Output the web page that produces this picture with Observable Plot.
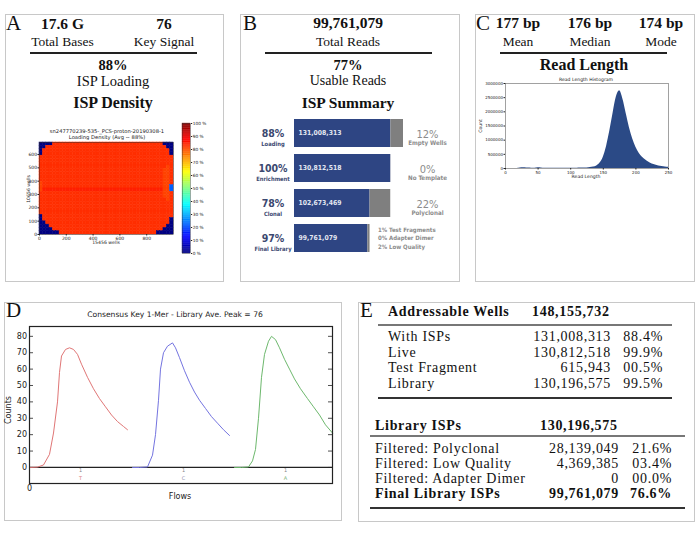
<!DOCTYPE html>
<html><head><meta charset="utf-8">
<script src="https://cdn.jsdelivr.net/npm/d3@7"></script>
<script src="https://cdn.jsdelivr.net/npm/@observablehq/plot@0.6"></script>
<style>
body{margin:0;background:#fff}
#root{position:relative;width:698px;height:536px;overflow:hidden;background:#fff}
.abs{position:absolute;white-space:nowrap;line-height:1}
.box{position:absolute;border:1.5px solid #c8c8c8;box-sizing:border-box}
svg{position:absolute;overflow:visible}
</style></head><body><div id="root"></div>
<script>
// ---------------- DATA ----------------
// Panel A
const statsA = [["17.6 G", "Total Bases"], ["76", "Key Signal"]];
const loadingA = ["88%", "ISP Loading"];
const chipTitle = ["sn247770239-535-_PCS-proton-20190308-1", "Loading Density (Avg ~ 88%)"];
const chipCols = 1000, chipRows = 690;           // axis extents (wells / 15.456)
const chipXTicks = [0, 200, 400, 600, 800];
const chipYTicks = [0, 100, 200, 300, 400, 500, 600];
const chipXLabel = "15456 wells", chipYLabel = "10656 wells";
const colorbarTicks = [0, 10, 20, 30, 40, 50, 60, 70, 80, 90, 100];
const densityLevel = {"0": 0, "3": 22, "8": 81, "9": 83, "a": 84.5};
const loadingRows = [
 "0000999999 9999999999 9999999999 9999999000",
 "0099999999 9999999999 9999999999 9999999900",
 "0999999999 9999999999 9999999999 9999999990",
 "0999999999 9999999999 9999999999 9999999990",
 "9999999999 9999999999 9999999999 9999999999",
 "9999999999 9999999999 9999999999 9999999999",
 "9999999999 9999999999 9999999999 9999999999",
 "9999999999 9999999999 9999999999 9999999989",
 "9999999999 9999999999 9999999999 9999999889",
 "9999999999 9999999999 9999999999 9999999889",
 "9999999999 9999999999 9999999999 9999999889",
 "9999999999 9999999999 9999999999 9999999889",
 "8999999999 9999999999 9999999999 9999999889",
 "8999999999 9999999999 9999999999 9999999883",
 "8aaaaaaaaa aaaaaaaaaa aaaaaaaaaa aaaaaaa883",
 "9999999999 9999999999 9999999999 9999999889",
 "9999999999 9999999999 9999999999 9999999889",
 "9999999999 9999999999 9999999999 9999999989",
 "9999999999 9999999999 9999999999 9999999999",
 "9999999999 9999999999 9999999999 9999999999",
 "9999999999 9999999999 9999999999 9999999999",
 "9999999999 9999999999 9999999999 9999999999",
 "0999999999 9999999999 9999999999 9999999999",
 "0999999999 9999999999 9999999999 9999999990",
 "0099999999 9999999999 9999999999 9999999990",
 "0009999999 9999999999 9999999999 9999999900",
 "0000999999 9999999999 9999999999 9999999000",
 "0000009999 9999999999 9999999999 9999900000"
];
// Panel B
const totalReadsB = ["99,761,079", "Total Reads"];
const usableB = ["77%", "Usable Reads"];
const addressableWells = 148155732;
const ispStages = ["Loading", "Enrichment", "Clonal", "Final Library"];
const ispPct = ["88%", "100%", "78%", "97%"];
const ispCounts = [131008313, 130812518, 102673469, 99761079];
const ispRemainder = [17147419, 195795, 28139049, 2912390];
const ispRightPct = ["12%", "0%", "22%", ""];
const ispRightLabel = ["Empty Wells", "No Template", "Polyclonal", ""];
const finalLibNotes = ["1% Test Fragments", "0% Adapter Dimer", "2% Low Quality"];
// Panel C
const lengthStats = [["177 bp", "Mean"], ["176 bp", "Median"], ["174 bp", "Mode"]];
const readLengthBins = [0,5,10,15,20,25,30,35,40,45,50,55,60,65,70,75,80,85,90,95,100,105,110,115,120,125,130,135,140,145,150,155,160,165,170,175,180,185,190,195,200,205,210,215,220,225,230,235,240,245,250];
const readCounts = [0,0,2000,4000,12000,30000,28000,15000,10000,12000,25000,20000,10000,8000,7000,7000,7000,8000,8000,9000,10000,11000,12000,14000,17000,22000,32000,50000,90000,190000,400000,780000,1320000,1950000,2520000,2740000,2450000,1950000,1450000,1050000,750000,540000,400000,300000,220000,160000,120000,90000,70000,50000,40000];
const histXTicks = [0, 50, 100, 150, 200, 250];
const histYTicks = [0, 500000, 1000000, 1500000, 2000000, 2500000, 3000000];
// Panel D
const keyTitle = "Consensus Key 1-Mer - Library Ave. Peak = 76";
const countTicks = [0, 10, 20, 30, 40, 50, 60, 70, 80];
const keyT = [[0,0],[8,0.2],[14,1.5],[20,8],[24,21],[28,40],[30,58],[32,68],[36,72],[40,73],[44,72],[48,69],[52,63],[58,55],[64,48],[70,42],[76,37],[82,32],[88,28],[94,25],[98,23]];
const keyC = [[103,0],[110,0],[118,0.3],[123,7.5],[126,20],[129,41],[131,60],[134,70],[138,74],[143,76],[146,73],[150,67],[155,59],[160,52],[165,46],[170,41],[176,36],[182,31],[188,27],[194,23],[200,19.5]];
const keyA = [[205,0],[212,0],[219,0.3],[223,4],[226,11],[229,30],[232,55],[235,69],[239,77],[242,80],[246,78],[250,73],[255,66],[260,60],[265,54],[271,48],[278,42],[284,37],[290,32],[296,26],[303,21]];
const flowNucs = ["T", "C", "A"];
const flowTickX = [51, 154, 256];
// Panel E
const wellsHeader = ["Addressable Wells", "148,155,732"];
const wellsRows = [["With ISPs", "131,008,313", "88.4%"], ["Live", "130,812,518", "99.9%"], ["Test Fragment", "615,943", "00.5%"], ["Library", "130,196,575", "99.5%"]];
const libHeader = ["Library ISPs", "130,196,575"];
const libRows = [["Filtered: Polyclonal", "28,139,049", "21.6%"], ["Filtered: Low Quality", "4,369,385", "03.4%"], ["Filtered: Adapter Dimer", "0", "00.0%"]];
const libFinal = ["Final Library ISPs", "99,761,079", "76.6%"];

// ---------------- HELPERS ----------------
const root = document.getElementById("root");
const SERIF = '"Liberation Serif","Times New Roman",serif';
const SANS = '"DejaVu Sans",sans-serif';
const COND = '"DejaVu Sans Condensed","DejaVu Sans",sans-serif';
function txt(x, base, s, o = {}) {
  const d = document.createElement("div");
  d.className = "abs";
  const size = o.size || 13;
  d.style.fontFamily = o.family || SERIF;
  d.style.fontSize = size + "px";
  d.style.fontWeight = o.bold ? "bold" : "normal";
  d.style.color = o.color || "#111";
  if (o.ls) d.style.letterSpacing = o.ls + "px";
  d.style.left = x + "px";
  if (o.rot) {
    d.style.top = base + "px";
    d.style.transform = "translate(-50%,-50%) rotate(-90deg)";
  } else {
    d.style.top = (base - 0.84 * size) + "px";
    const a = o.anchor || "start";
    if (a === "middle") d.style.transform = "translateX(-50%)";
    else if (a === "end") d.style.transform = "translateX(-100%)";
  }
  d.textContent = s;
  root.appendChild(d);
}
function hline(x1, x2, y, w, color) {
  const d = document.createElement("div");
  d.style.cssText = `position:absolute;left:${x1}px;top:${y - w / 2}px;width:${x2 - x1}px;height:${w}px;background:${color}`;
  root.appendChild(d);
}
function box(x1, y1, x2, y2) {
  const d = document.createElement("div");
  d.className = "box";
  d.style.cssText += `left:${x1}px;top:${y1}px;width:${x2 - x1}px;height:${y2 - y1}px`;
  root.appendChild(d);
}
function place(svg, x, y) {
  svg.style.left = x + "px"; svg.style.top = y + "px";
  root.appendChild(svg);
}
const jet = t => {
  const c = v => Math.max(0, Math.min(1, v));
  const r = c(1.5 - Math.abs(4 * t - 3)), g = c(1.5 - Math.abs(4 * t - 2)), b = c(1.5 - Math.abs(4 * t - 1));
  return `rgb(${Math.round(r * 255)},${Math.round(g * 255)},${Math.round(b * 255)})`;
};
const NAVY = "#2e4583";

// ---------------- BOXES & LABELS ----------------
box(5, 14, 224, 282); box(240, 14, 460, 282); box(475, 14, 695, 282);
box(4, 302, 342, 521); box(358, 302, 695, 522);
txt(6, 31, "A", {size: 21}); txt(243, 31, "B", {size: 21}); txt(476, 31, "C", {size: 21});
txt(6, 318, "D", {size: 21}); txt(360, 318, "E", {size: 21});

// ---------------- PANEL A ----------------
[62.5, 164].forEach((cx, i) => {
  txt(cx, 29, statsA[i][0], {size: 15.5, bold: true, anchor: "middle"});
  txt(cx, 46.5, statsA[i][1], {size: 13.5, anchor: "middle"});
});
hline(30, 197, 53, 1.2, "#222");
txt(113, 70.5, loadingA[0], {size: 14.5, bold: true, anchor: "middle"});
txt(113, 86, loadingA[1], {size: 14.5, anchor: "middle"});
txt(113, 108, "ISP Density", {size: 16, bold: true, anchor: "middle"});
txt(107, 133, chipTitle[0], {size: 5.2, family: SANS, anchor: "middle", color: "#222"});
txt(107, 139, chipTitle[1], {size: 5.2, family: SANS, anchor: "middle", color: "#222"});
txt(106, 245, chipXLabel, {size: 4.6, family: SANS, anchor: "middle", color: "#222"});
txt(29, 189, chipYLabel, {size: 4.6, family: SANS, rot: true, color: "#222"});

const heatCells = [];
loadingRows.forEach((row, r) => Array.from(row.replace(/ /g, "")).forEach((ch, c) => heatCells.push({c, r, v: densityLevel[ch]})));
const nC = loadingRows[0].replace(/ /g, "").length, nR = loadingRows.length;
const heat = Plot.plot({
  width: 175, height: 130, marginLeft: 29, marginRight: 12, marginTop: 22, marginBottom: 16,
  style: {fontFamily: SANS, fontSize: "4.5px", background: "transparent", color: "#222"},
  x: {domain: [0, chipCols], label: null},
  y: {domain: [0, chipRows], label: null},
  color: {type: "linear", domain: [0, 100], interpolate: jet},
  marks: [
    Plot.rect(heatCells, {x1: d => d.c * chipCols / nC, x2: d => (d.c + 1) * chipCols / nC,
      y1: d => chipRows - (d.r + 1) * chipRows / nR, y2: d => chipRows - d.r * chipRows / nR,
      fill: "v", stroke: "v", strokeWidth: 0.5}),
    Plot.frame({stroke: "#333", strokeWidth: 0.5}),
    Plot.axisX({ticks: chipXTicks, tickSize: 1.5, tickPadding: 1, label: null}),
    Plot.axisY({ticks: chipYTicks, tickSize: 1.5, tickPadding: 1, label: null})
  ]
});
place(heat, 10, 120);

const cbar = Plot.plot({
  width: 30, height: 140, marginLeft: 2, marginRight: 20, marginTop: 5, marginBottom: 5,
  style: {fontFamily: SANS, fontSize: "4.3px", background: "transparent", color: "#222"},
  x: {domain: [0, 1], axis: null},
  y: {domain: [0, 100], label: null},
  color: {type: "linear", domain: [0, 100], interpolate: jet},
  marks: [
    Plot.rect(d3.range(0, 100, 0.5), {x1: 0, x2: 1, y1: d => d, y2: d => d + 0.5, fill: d => d, stroke: d => d, strokeWidth: 0.3}),
    Plot.frame({stroke: "#333", strokeWidth: 0.4}),
    Plot.axisY({anchor: "right", ticks: colorbarTicks, tickFormat: d => d + " %", tickSize: 1.2, tickPadding: 1, label: null})
  ]
});
place(cbar, 180, 118);

// ---------------- PANEL B ----------------
txt(348, 28.5, totalReadsB[0], {size: 15.5, bold: true, anchor: "middle"});
txt(348, 46.5, totalReadsB[1], {size: 13.5, anchor: "middle"});
hline(265, 432, 53, 1.2, "#222");
txt(348, 70.5, usableB[0], {size: 14.5, bold: true, anchor: "middle"});
txt(348, 86, usableB[1], {size: 14, anchor: "middle"});
txt(348, 108, "ISP Summary", {size: 15.5, bold: true, anchor: "middle"});

const ispData = ispStages.map((stage, i) => ({stage, count: ispCounts[i], rest: ispRemainder[i], pct: ispPct[i], rp: ispRightPct[i], rl: ispRightLabel[i]}));
const SLATE = "#3b4870", GRAYT = "#8c8c8c";
const B = Plot.plot({
  width: 220, height: 150, marginLeft: 54, marginRight: 57, marginTop: 3.5, marginBottom: 6.5,
  style: {fontFamily: COND, background: "transparent"},
  x: {domain: [0, addressableWells], axis: null},
  y: {domain: ispStages, axis: null, paddingInner: 0.2, paddingOuter: 0.1, round: false},
  marks: [
    Plot.barX(ispData, {y: "stage", x1: 0, x2: "count", fill: NAVY}),
    Plot.barX(ispData, {y: "stage", x1: "count", x2: d => d.count + d.rest, fill: "#7f7f7f"}),
    Plot.text(ispData, {y: "stage", x: 0, dx: 4, dy: -0.5, text: d => d3.format(",")(d.count), textAnchor: "start", fill: "#e3e7f1", fontWeight: "bold", fontSize: 6.8}),
    Plot.text(ispData, {y: "stage", x: 0, dx: -21.5, dy: 0.5, text: "pct", fill: SLATE, fontSize: 10.5, fontWeight: "bold"}),
    Plot.text(ispData, {y: "stage", x: 0, dx: -21.5, dy: 10.5, text: "stage", fill: SLATE, fontSize: 5.8, fontWeight: "bold"}),
    Plot.text(ispData, {y: "stage", x: addressableWells, dx: 24, dy: 0.5, text: "rp", fill: GRAYT, fontSize: 11}),
    Plot.text(ispData, {y: "stage", x: addressableWells, dx: 24, dy: 10, text: "rl", fill: GRAYT, fontSize: 6.2, fontWeight: "bold"}),
    Plot.text([finalLibNotes.join("\n")], {y: () => "Final Library", x: addressableWells, dx: -25.5, dy: -1, text: d => d, textAnchor: "start", fill: GRAYT, fontSize: 6, fontWeight: "bold", lineHeight: 1.45})
  ]
});
place(B, 240, 112);

// ---------------- PANEL C ----------------
[518, 590, 661].forEach((cx, i) => {
  txt(cx, 28.5, lengthStats[i][0], {size: 15.5, bold: true, anchor: "middle"});
  txt(cx, 46.5, lengthStats[i][1], {size: 13.5, anchor: "middle"});
});
hline(500, 667, 53, 1.2, "#222");
txt(584, 70.5, "Read Length", {size: 16, bold: true, anchor: "middle"});
txt(586, 82, "Read Length Histogram", {size: 4.6, family: SANS, anchor: "middle", color: "#222"});
txt(586, 178.5, "Read Length", {size: 4.6, family: SANS, anchor: "middle", color: "#222"});
txt(481, 126, "Count", {size: 4.6, family: SANS, rot: true, color: "#222"});
const hist = readLengthBins.map((x, i) => ({x, y: readCounts[i]}));
const C = Plot.plot({
  width: 216, height: 108, marginLeft: 29, marginRight: 24, marginTop: 9, marginBottom: 14,
  style: {fontFamily: SANS, fontSize: "4px", background: "transparent", color: "#222"},
  x: {domain: [0, 250], label: null},
  y: {domain: [0, 3000000], label: null},
  marks: [
    Plot.areaY(hist, {x: "x", y: "y", fill: "#2b4a86", curve: "monotone-x"}),
    Plot.frame({stroke: "#444", strokeWidth: 0.5}),
    Plot.axisX({ticks: histXTicks, tickSize: 1.5, tickPadding: 1, label: null}),
    Plot.axisY({ticks: histYTicks, tickFormat: d => String(d), tickSize: 1.5, tickPadding: 1, label: null})
  ]
});
place(C, 476, 74);

// ---------------- PANEL D ----------------
txt(175, 317, keyTitle, {size: 7.6, family: SANS, anchor: "middle", color: "#222"});
txt(180, 500, "Flows", {size: 8, family: SANS, anchor: "middle", color: "#222"});
txt(9, 410, "Counts", {size: 8, family: SANS, rot: true, color: "#222"});
const flowColors = ["#d98080", "#9090b0", "#77b077"];
const D = Plot.plot({
  width: 337, height: 219, marginLeft: 25, marginRight: 9, marginTop: 24, marginBottom: 38,
  style: {fontFamily: SANS, fontSize: "8px", background: "transparent", color: "#222"},
  x: {domain: [0, 303], label: null},
  y: {domain: [-9.8, 86], label: null},
  color: {type: "identity"},
  marks: [
    Plot.ruleY(countTicks, {x1: 0, x2: 4, stroke: "#222", strokeWidth: 0.8}),
    Plot.ruleY(countTicks, {x1: 299, x2: 303, stroke: "#222", strokeWidth: 0.8}),
    Plot.ruleY([0], {stroke: "#222", strokeWidth: 1.2}),
    Plot.line(keyT, {stroke: "#e07676", strokeWidth: 1}),
    Plot.line(keyC, {stroke: "#7474e0", strokeWidth: 1}),
    Plot.line(keyA, {stroke: "#6db86d", strokeWidth: 1}),
    Plot.text(flowTickX, {x: d => d, frameAnchor: "bottom", dy: -11.5, text: () => "1", fill: "#888", fontSize: 5}),
    Plot.text(flowNucs, {x: (d, i) => flowTickX[i], frameAnchor: "bottom", dy: -4, text: d => d, fill: (d, i) => flowColors[i], fontSize: 5}),
    Plot.frame({stroke: "#222", strokeWidth: 1.2}),
    Plot.axisY({ticks: countTicks, tickSize: 0, tickPadding: 2.5, label: null}),
    Plot.axisX({ticks: [0], tickSize: 0, tickPadding: 2, label: null})
  ]
});
place(D, 4, 302);

// ---------------- PANEL E ----------------
const ES = 14, LS = 0.7;
txt(388, 317, wellsHeader[0], {size: ES, bold: true, ls: LS});
txt(532, 317, wellsHeader[1], {size: ES, bold: true, ls: LS});
hline(378, 672, 325, 1.2, "#777");
wellsRows.forEach((r, i) => {
  const y = 342 + i * 15.6;
  txt(388, y, r[0], {size: ES, ls: LS});
  txt(611, y, r[1], {size: ES, anchor: "end", ls: LS});
  txt(663, y, r[2], {size: ES, anchor: "end", ls: LS});
});
hline(378, 672, 398, 2, "#333");
txt(375, 431, libHeader[0], {size: ES, bold: true, ls: LS});
txt(540, 431, libHeader[1], {size: ES, bold: true, ls: LS});
hline(370, 685, 436, 1.2, "#777");
libRows.forEach((r, i) => {
  const y = 454 + i * 14.8;
  txt(375, y, r[0], {size: ES, ls: LS});
  txt(619, y, r[1], {size: ES, anchor: "end", ls: LS});
  txt(672, y, r[2], {size: ES, anchor: "end", ls: LS});
});
txt(375, 498.5, libFinal[0], {size: ES, bold: true, ls: LS});
txt(619, 498.5, libFinal[1], {size: ES, bold: true, anchor: "end", ls: LS});
txt(672, 498.5, libFinal[2], {size: ES, bold: true, anchor: "end", ls: LS});
hline(370, 685, 508, 2, "#333");
</script></body></html>
